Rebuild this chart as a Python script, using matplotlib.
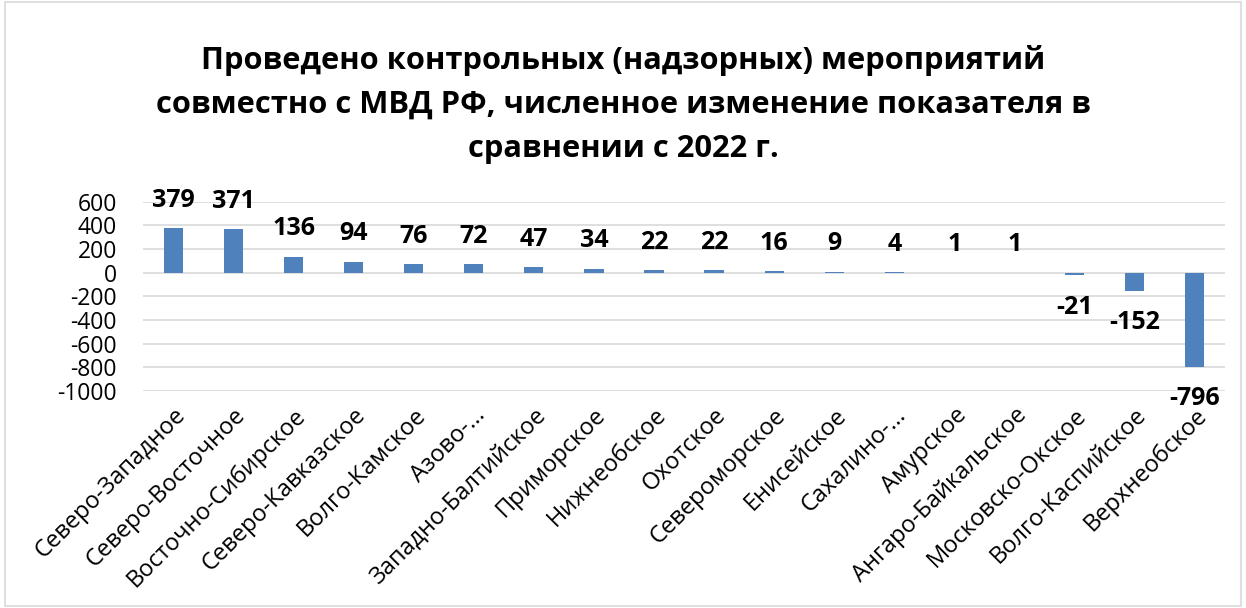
import numpy as np
import matplotlib.pyplot as plt

plt.rcParams['font.family'] = ['Open Sans', 'DejaVu Sans']

# data
regions = ['Северо-Западное', 'Северо-Восточное', 'Восточно-Сибирское',
           'Северо-Кавказское', 'Волго-Камское', 'Азово-...',
           'Западно-Балтийское', 'Приморское', 'Нижнеобское', 'Охотское',
           'Североморское', 'Енисейское', 'Сахалино-...', 'Амурское',
           'Ангаро-Байкальское', 'Московско-Окское', 'Волго-Каспийское',
           'Верхнеобское']
changes = [379, 371, 136, 94, 76, 72, 47, 34, 22, 22, 16, 9, 4, 1, 1, -21, -152, -796]
yticks = [600, 400, 200, 0, -200, -400, -600, -800, -1000]

title = ('Проведено контрольных (надзорных) мероприятий\n'
         'совместно с МВД РФ, численное изменение показателя в\n'
         'сравнении с 2022 г.')

fig = plt.figure(figsize=(12.46, 6.08), dpi=100)
ax = fig.add_axes([0.115, 0.357, 0.868, 0.311])

x = np.arange(len(regions))
bars = ax.bar(x, changes, width=0.32, color='#4F81BD', zorder=3)

ax.set_xlim(-0.5, len(regions) - 0.5)
ax.set_ylim(-1000, 600)
ax.set_yticks(yticks)
ax.set_yticklabels([str(v) for v in yticks], fontsize=16.5)
ax.set_xticks(x)
ax.set_xticklabels(regions, rotation=45, ha='right', rotation_mode='anchor', fontsize=17)
ax.tick_params(length=0)
ax.tick_params(axis='x', pad=9)
ax.tick_params(axis='y', pad=19)
ax.grid(axis='y', color='#D9D9D9', linewidth=1.2, zorder=0)
for s in ax.spines.values():
    s.set_visible(False)

for xi, v in zip(x, changes):
    if v >= 0:
        ax.annotate(str(v), (xi, v), xytext=(0, 11), textcoords='offset points',
                    ha='center', va='bottom', fontsize=18, fontweight='bold')
    else:
        ax.annotate(str(v), (xi, v), xytext=(0, -14), textcoords='offset points',
                    ha='center', va='top', fontsize=18, fontweight='bold')

fig.text(0.5, 0.926, title, ha='center', va='top', fontsize=22.2,
         fontweight='bold', linespacing=1.6)

# light border round the chart
fig.patches.append(plt.Rectangle((0.004, 0.004), 0.992, 0.992, transform=fig.transFigure,
                                 fill=False, edgecolor='#D9D9D9', linewidth=1.2))

fig.savefig('out.png', dpi=100)
